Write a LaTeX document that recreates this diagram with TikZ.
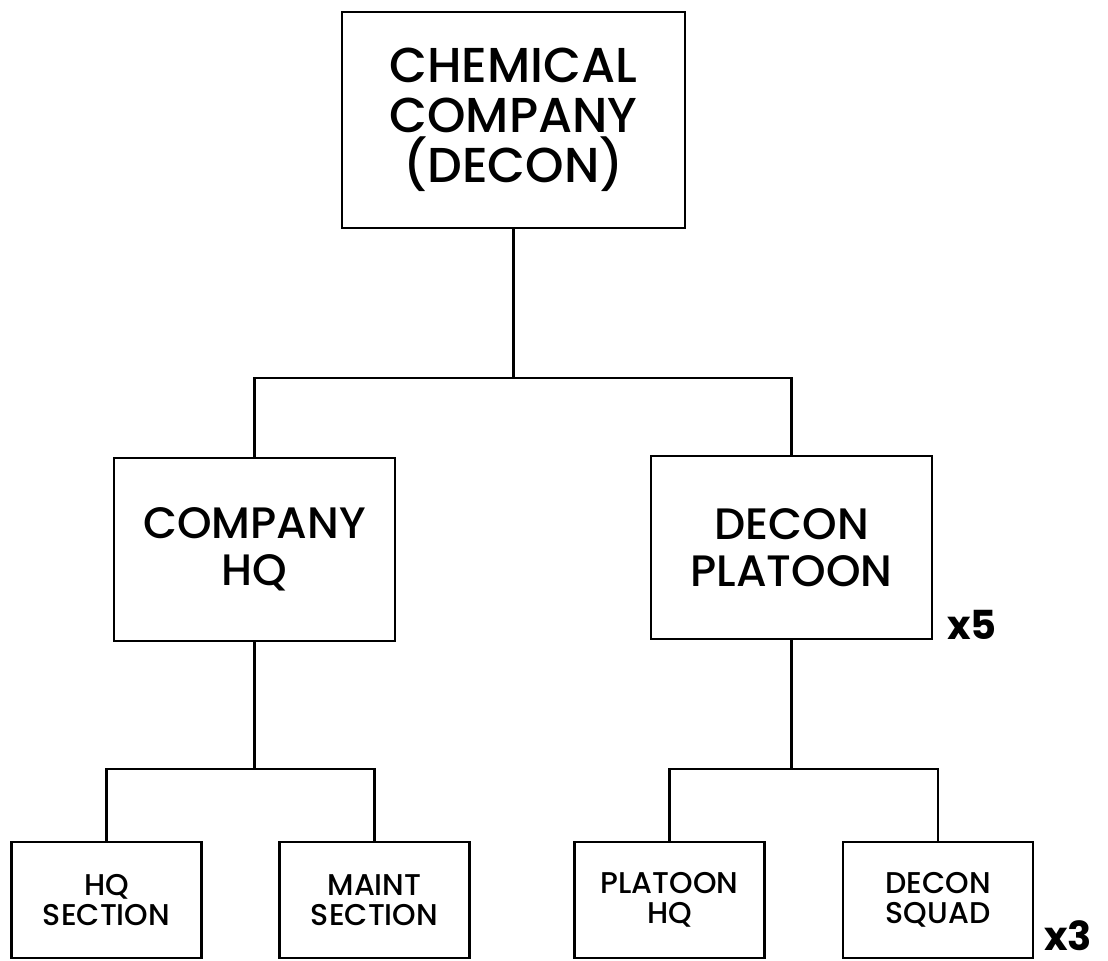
\documentclass[tikz,border=0pt]{standalone}
\usepackage{fontspec}
\setmainfont{Poppins}[UprightFont=*-Medium, BoldFont=*-Bold]
\usetikzlibrary{positioning}
\definecolor{ChartInk}{HTML}{000000}
\definecolor{ChartPaper}{HTML}{FFFFFF}
\tikzset{
  every node/.style={text=ChartInk},
  unitbox/.style={draw=ChartInk, line width=1.1pt, fill=ChartPaper, align=center, inner sep=0pt},
  topunit/.style={unitbox, minimum width=171.5pt, minimum height=108pt, font=\fontsize{24.5}{25}\selectfont},
  midunit/.style={unitbox, minimum width=140.5pt, minimum height=91.5pt, font=\fontsize{22}{23.5}\selectfont},
  lowunit/.style={unitbox, minimum width=95pt, minimum height=58pt, font=\fontsize{15}{15}\selectfont},
  link/.style={draw=ChartInk, line width=1.1pt},
  count/.style={anchor=base west, inner sep=0pt, font=\bfseries\fontsize{20}{20}\selectfont},
}

\begin{document}
\begin{tikzpicture}[x=0.5pt, y=-0.5pt]
  \useasboundingbox (0,0) rectangle (1108,961);
  % Company at the top
  \node[topunit] (chem) at (513.5,120) {CHEMICAL\\COMPANY\\(DECON)};
  % Second level: HQ and platoons
  \node[midunit] (cohq) at (254.5,549.5) {COMPANY\\HQ};
  \node[midunit] (plt) at (791.5,547.5) {DECON\\PLATOON};
  \node[count] (x5) at (947,640) {x5};
  % Third level: sections and squads
  \node[lowunit] (hqsec) at (106.5,900) {HQ\\SECTION};
  \node[lowunit] (maint) at (374.5,900) {MAINT\\SECTION};
  \node[lowunit] (plthq) at (669.5,900) {PLATOON\\HQ};
  \node[lowunit] (squad) at (938,900) {DECON\\SQUAD};
  \node[count] (x3) at (1044,950) {x3};
  % Connectors
  \coordinate (j1) at (513.5,378);
  \coordinate (j2) at (254.5,769);
  \coordinate (j3) at (791.5,769);
  \draw[link] (chem.south) -- (j1);
  \draw[link] (cohq.north) |- (j1) -| (plt.north);
  \draw[link] (cohq.south) -- (j2);
  \draw[link] (hqsec.north) |- (j2) -| (maint.north);
  \draw[link] (plt.south) -- (j3);
  \draw[link] (plthq.north) |- (j3) -| (squad.north);
\end{tikzpicture}
\end{document}
